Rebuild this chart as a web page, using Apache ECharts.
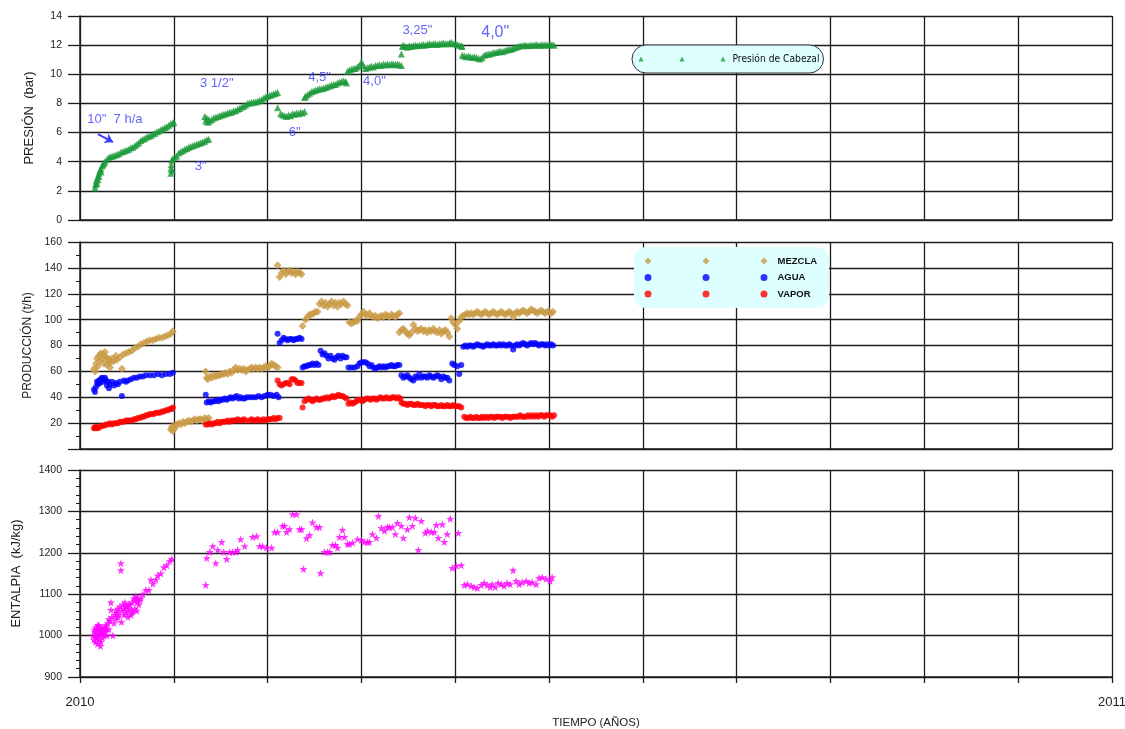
<!DOCTYPE html>
<html><head><meta charset="utf-8">
<script src="https://cdn.jsdelivr.net/npm/echarts@6/dist/echarts.min.js"></script>
<style>html,body{margin:0;padding:0;background:#fff;}#c{width:1125px;height:729px;}</style>
</head><body><div id="c"></div>
<script>
// ---------------- DATA ----------------
const xTickLabels = ['2010', '2011'];

const presion = [
[15,2.2],[15.5,2.4],[16,2.5],[16.5,2.7],[17,2.8],[17,2.5],[18,3.0],[18,2.8],[19,3.2],[19,3.0],[20,3.4],[21,3.5],[21,3.3],[22,3.7],[23,3.8],[24,3.9],[25,4.0],[27,4.15],[29,4.3],[31,4.35],[33,4.4],[35,4.45],[37,4.5],[39,4.55],[41,4.65],[43,4.7],[45,4.75],[47,4.8],[49,4.85],[51,4.95],[53,5.0],[55,5.1],[57,5.2],[59,5.3],[61,5.45],[63,5.55],[65,5.6],[67,5.7],[69,5.75],[71,5.8],[73,5.9],[75,5.95],[77,6.05],[79,6.1],[81,6.2],[83,6.25],[85,6.35],[87,6.4],[89,6.5],[91,6.6],[93,6.65],[94,6.7],
[91,3.2],[91,3.5],[91.5,3.8],[92,4.1],[92.5,3.4],[93,4.2],[95,4.3],[97,4.4],[99,4.6],[101,4.7],[103,4.75],[105,4.85],[107,4.9],[109,5.0],[111,5.05],[113,5.1],[115,5.15],[117,5.2],[119,5.25],[121,5.3],[123,5.35],[125,5.4],[127,5.5],[129,5.55],
[125,7.1],[126,6.8],[127,7.0],[128,6.7],[129,6.9],[130,6.8],[132,6.9],[134,7.0],[136,7.05],[138,7.1],[140,7.15],[142,7.2],[144,7.25],[146,7.3],[148,7.35],[150,7.4],[152,7.4],[154,7.5],[156,7.5],[158,7.6],[160,7.65],[162,7.75],[164,7.8],[166,7.9],[168,8.0],[170,8.05],[172,8.05],[174,8.1],[176,8.1],[178,8.15],[180,8.2],[182,8.25],[184,8.35],[186,8.45],[188,8.5],[190,8.55],[192,8.6],[194,8.65],[196,8.7],[198,8.75],
[198,7.7],[201,7.3],[203,7.2],[205,7.15],[207,7.1],[209,7.2],[211,7.15],[213,7.3],[215,7.25],[217,7.35],[219,7.3],[221,7.4],[223,7.35],[225,7.45],
[225,8.4],[226,8.5],[228,8.6],[230,8.7],[232,8.8],[234,8.85],[236,8.9],[238,8.95],[240,9.0],[242,9.0],[244,9.05],[246,9.1],[248,9.15],[250,9.2],[252,9.25],[254,9.3],[256,9.3],[258,9.4],[260,9.45],[262,9.5],[264,9.55],[266,9.5],[267,9.4],
[268,10.2],[270,10.3],[272,10.35],[274,10.4],[276,10.4],[278,10.5],[280,10.6],[282,10.85],[284,10.6],[286,10.4],[288,10.45],[290,10.5],[292,10.55],[294,10.5],[296,10.6],[298,10.6],[300,10.65],[302,10.6],[304,10.7],[306,10.65],[308,10.7],[310,10.65],[312,10.7],[314,10.7],[316,10.65],[318,10.7],[320,10.65],[322,10.6],
[322,11.4],[323,11.9],[324,12.0],[326,11.9],[328,11.85],[330,11.95],[332,11.9],[334,11.95],[336,12.0],[338,11.95],[340,12.0],[342,12.0],[344,12.05],[346,12.0],[348,12.05],[350,12.1],[352,12.05],[354,12.1],[356,12.1],[358,12.05],[360,12.1],[362,12.1],[364,12.15],[366,12.1],[368,12.1],[370,12.15],[372,12.2],[374,12.1],[376,12.1],[378,12.05],[380,12.0],[382,11.95],[383,11.9],
[383,11.3],[385,11.25],[387,11.2],[389,11.25],[391,11.2],[393,11.15],[395,11.2],[397,11.15],[399,11.1],[401,11.05],[403,11.15],[405,11.3],[407,11.35],[409,11.4],[411,11.4],[413,11.45],[415,11.5],[417,11.5],[419,11.55],[421,11.6],[423,11.55],[425,11.6],[427,11.65],[429,11.7],[431,11.7],[433,11.75],[435,11.8],[437,11.85],[439,11.9],[441,11.95],[443,11.95],[445,12.0],[447,12.0],[449,11.95],[451,12.0],[453,12.0],[455,12.0],[457,12.05],[459,12.0],[461,12.0],[463,12.05],[465,12.0],[467,12.05],[469,12.0],[471,12.05],[473,12.05],[475,12.0]
];

const mezcla = [
[14,62],[15,60],[16,66],[17,70],[18,64],[19,72],[20,68],[21,74],[22,70],[23,73],[24,66],[25,75],[26,71],[27,65],[28,70],[29,68],[30,63],[31,67],[32,70],[34,68],[36,72],[37,69],[40,71],[42,62],[43,73],[46,74],[49,75],[52,76],[55,78],[58,79],[61,81],[64,82],[67,83],[70,84],[73,84],[76,85],[79,86],[82,86],[85,87],[88,88],[91,89],[93,91],
[91,15],[92,17],[93,14],[94,18],[95,16],[97,19],[99,20],[101,19],[103,21],[105,20],[107,21],[109,22],[111,21],[113,22],[115,23],[117,22],[119,23],[121,23],[123,22],[125,24],[127,23],[129,24],
[126,60],[127,55],[128,54],[130,56],[132,55],[134,57],[136,56],[138,57],[140,57],[142,58],[144,58],[146,59],[148,58],[150,60],[152,59],[154,61],[156,63],[158,61],[160,62],[162,61],[164,62],[166,60],[167,61],
[170,62],[172,63],[174,62],[176,63],[178,62],[180,63],[182,62],[184,63],[186,64],[188,63],[190,64],[192,66],[194,65],[196,64],[198,63],
[198,142],[200,133],[202,136],[204,138],[206,135],[208,137],[210,138],[212,136],[214,137],[216,135],[218,137],[220,136],[222,135],
[223,95],[226,100],[228,102],[230,104],[232,104],[234,105],[236,106],[238,106],[240,112],[242,114],[244,111],[246,113],[248,110],[250,112],[252,114],[254,111],[256,113],[258,110],[260,113],[262,112],[264,114],[266,112],[268,111],
[270,98],[272,97],[274,98],[276,99],[278,99],[280,102],[282,104],[284,106],[286,104],[288,103],[290,105],[292,103],[294,102],[296,103],[298,101],[300,102],[302,103],[304,102],[306,104],[308,103],[310,102],[312,104],[314,103],[316,102],[318,104],[320,105],
[320,90],[322,92],[324,93],[326,91],[328,89],[330,88],[332,90],[334,96],[336,93],[338,91],[340,92],[342,93],[344,91],[346,92],[348,90],[350,92],[352,91],[354,93],[356,91],[358,90],[360,92],[362,89],[364,91],[366,92],[368,90],[370,87],
[372,101],[374,98],[376,96],[378,93],[380,99],[382,102],
[384,103],[386,104],[388,105],[390,104],[392,105],[394,104],[396,105],[398,106],[400,105],[402,104],[404,105],[406,106],[408,105],[410,104],[412,105],[414,106],[416,105],[418,104],[420,105],[422,106],[424,105],[426,104],[428,105],[430,106],[432,105],[434,102],[436,105],[438,106],[440,105],[442,106],[444,107],[446,106],[448,105],[450,106],[452,108],[454,107],[456,106],[458,105],[460,106],[462,107],[464,106],[466,105],[468,106],[470,106],[472,105],[474,106]
];

const agua = [
[14,46],[15,44],[16,48],[17,52],[18,50],[19,53],[20,51],[21,54],[22,55],[23,52],[24,54],[25,55],[26,53],[27,49],[28,52],[29,47],[30,50],[32,52],[34,49],[36,51],[38,50],[40,52],[42,41],[44,53],[46,52],[48,53],[51,54],[54,55],[57,55],[60,56],[63,56],[66,57],[70,57],[74,57],[78,58],[82,57],[86,58],[90,58],[93,59],
[126,42],[127,36],[129,37],[131,36],[133,37],[135,37],[137,38],[139,37],[141,38],[143,38],[145,39],[147,38],[149,39],[151,40],[153,39],[155,40],[157,41],[159,39],[161,40],[163,39],[165,39],[167,40],
[170,40],[173,40],[176,40],[179,41],[182,40],[185,41],[188,42],[191,42],[194,41],[197,42],[199,40],
[198,89],[200,82],[202,84],[204,86],[206,85],[208,84],[210,85],[212,85],[214,84],[216,85],[218,85],[220,86],[222,85],
[223,63],[225,64],[227,64],[229,65],[231,65],[233,66],[235,65],[237,66],[239,65],
[241,76],[243,73],[245,74],[247,72],[249,70],[251,72],[253,70],[255,69],[257,71],[259,72],[261,70],[263,72],[265,71],[267,71],
[269,63],[272,63],[275,63],[278,64],[280,66],[282,67],[284,67],[286,67],[288,66],[290,64],[292,65],[294,63],[296,62],[298,63],[300,64],[302,63],[304,64],[306,63],[308,64],[310,64],[312,65],[314,64],[316,64],[318,65],[320,65],
[322,57],[324,55],[326,56],[328,57],[330,55],[332,54],[334,53],[336,56],[338,55],[340,58],[342,55],[344,56],[346,56],[348,55],[350,57],[352,56],[354,55],[356,56],[358,57],[360,56],[362,54],[364,56],[366,55],[368,55],[370,53],
[373,66],[375,65],[378,64],[380,58],[382,65],
[384,79],[386,80],[388,79],[390,80],[392,80],[394,79],[396,80],[398,81],[400,80],[402,80],[404,79],[406,80],[408,81],[410,80],[412,80],[414,81],[416,80],[418,80],[420,81],[422,80],[424,81],[426,80],[428,80],[430,81],[432,80],[434,77],[436,80],[438,81],[440,80],[442,81],[444,82],[446,81],[448,80],[450,81],[452,82],[454,81],[456,82],[458,81],[460,80],[462,81],[464,81],[466,80],[468,81],[470,80],[472,81],[474,80]
];

const vapor = [
[14,16],[15,17],[16,16],[17,17],[18,16],[20,17],[22,18],[24,18],[26,19],[28,19],[30,20],[32,19],[34,20],[36,20],[38,20],[40,21],[42,21],[44,21],[46,22],[48,22],[50,22],[52,22],[54,23],[56,23],[58,24],[60,24],[62,25],[64,25],[66,26],[68,26],[70,27],[72,27],[74,27],[76,28],[78,28],[80,28],[82,29],[84,29],[86,30],[88,30],[90,31],[92,31],[93,32],
[126,19],[128,19],[130,20],[132,19],[134,20],[136,20],[138,21],[140,20],[142,21],[144,21],[146,21],[148,22],[150,21],[152,22],[154,22],[156,22],[158,23],[160,22],[162,22],[164,23],[166,22],
[170,22],[172,23],[174,22],[176,22],[178,23],[180,22],[182,22],[184,23],[186,22],[188,23],[190,23],[192,23],[194,24],[196,23],[198,24],[200,24],
[198,53],[200,50],[202,49],[204,50],[206,51],[208,51],[210,50],[212,54],[214,54],[216,53],[218,51],[220,51],[222,51],
[223,32],[225,37],[227,38],[229,39],[231,38],[233,37],[235,38],[237,39],[239,38],[241,38],[243,39],[245,39],[247,40],[249,39],[251,40],[253,41],[255,40],[257,41],[259,42],[261,41],[263,41],[265,40],[267,39],
[269,35],[271,36],[273,35],[275,36],[277,37],[279,38],[281,38],[283,37],[285,38],[287,39],[289,39],[291,38],[293,39],[295,39],[297,38],[299,39],[301,40],[303,39],[305,39],[307,40],[309,39],[311,39],[313,40],[315,40],[317,39],[319,40],[321,39],
[322,36],[324,35],[326,35],[328,34],[330,35],[332,35],[334,34],[336,34],[338,35],[340,34],[342,34],[344,34],[346,33],[348,34],[350,34],[352,33],[354,34],[356,34],[358,33],[360,33],[362,34],[364,33],[366,33],[368,34],[370,33],[372,33],[374,34],[376,33],[378,33],[380,33],[382,32],
[385,25],[387,24],[389,24],[391,25],[393,24],[395,24],[397,25],[399,24],[401,24],[403,25],[405,24],[407,25],[409,24],[411,25],[413,25],[415,24],[417,25],[419,25],[421,25],[423,24],[425,25],[427,25],[429,25],[431,24],[433,25],[435,25],[437,25],[439,25],[441,26],[443,25],[445,25],[447,25],[449,26],[451,25],[453,26],[455,25],[457,26],[459,25],[461,26],[463,26],[465,25],[467,26],[469,26],[471,26],[473,25],[475,26]
];

const entalpia = [
[13,1000],[14,990],[14.5,1015],[15,1010],[15.5,985],[16,1020],[16,995],[16.5,1005],[17,995],[17.5,980],[18,1015],[18,1025],[18.5,1000],[19,1025],[19.5,990],[20,1005],[20,1015],[20.5,975],[21,1010],[21,985],[22,1020],[22.5,995],[23,1015],[23,1005],[24,1000],[25,1010],[25,1020],[26,1025],[27,1015],[27,1000],[28,1030],[29,1040],[29,1015],[30,1035],[31,1080],[31,1062],[32,1045],[33,1000],[34,1030],[35,1050],[36,1040],[36,1060],[37,1055],[38,1065],[38,1045],[39,1050],[40,1070],[41,1175],[41,1158],[41.5,1033],[42,1060],[43,1075],[44,1065],[44,1050],[45,1080],[46,1055],[46,1070],[47,1070],[48,1060],[48,1045],[49,1075],[50,1065],[50,1075],[51,1050],[52,1080],[52,1055],[53,1060],[54,1090],[55,1085],[55,1065],[56,1095],[57,1080],[57,1060],[58,1090],[59,1075],[60,1085],[61,1090],[63,1100],[66,1110],[69,1110],[71,1135],[73,1125],[76,1135],[78,1145],[81,1150],[84,1165],[87,1170],[90,1180],[92,1185],
[126,1122],[127,1187],[130,1202],[133,1216],[136,1175],[138,1207],[142,1226],[144,1202],[147,1185],[150,1202],[153,1202],[156,1202],[158,1207],[161,1233],[165,1216],[173,1238],[177,1240],[180,1216],[183,1216],[187,1212],[192,1212],[195,1250],
[198,1250],[203,1265],[205,1265],[207,1250],[210,1257],[213,1293],[217,1293],[220,1257],[222,1257],[224,1161],[227,1235],[230,1243],[233,1273],[237,1262],[240,1262],[241,1151],[245,1202],[248,1202],[250,1202],[253,1219],[256,1219],[258,1212],[260,1238],[263,1255],[265,1238],[268,1221],[270,1221],[273,1224],[278,1233],[282,1231],[285,1226],[288,1226],[290,1226],[293,1245],[297,1236],[299,1289],[302,1260],[305,1253],[308,1262],[310,1262],[313,1262],[316,1245],[318,1272],[322,1265],[324,1236],[328,1257],[330,1286],[333,1265],[336,1284],[339,1207],[342,1277],[346,1248],[348,1253],[352,1250],[355,1250],[357,1267],[359,1236],[363,1269],[365,1226],[368,1245],[371,1282],[373,1163],[377,1168],[379,1248],[382,1170],
[385,1122],[388,1124],[392,1120],[395,1117],[398,1115],[402,1122],[405,1127],[408,1122],[411,1117],[413,1124],[416,1117],[419,1127],[422,1124],[425,1120],[428,1127],[431,1124],[434,1158],[437,1132],[440,1124],[443,1129],[447,1132],[450,1127],[453,1129],[457,1124],[460,1139],[463,1141],[467,1137],[471,1132],[473,1141]
];

const anotaciones = [
[35, 6.93, '10"  7 h/a'],
[137, 9.4, '3 1/2"'],
[121, 3.7, '3"'],
[215, 6.04, '6"'],
[240, 9.8, '4,5"'],
[295, 9.5, '4,0"'],
[338, 13.04, '3,25"'],
[416, 12.83, '4,0"']
];
const flecha = [[18, 5.9], [33, 5.35]];

// ---------------- CHART ----------------
const FONT = "'Liberation Sans', Arial, sans-serif";
const LINE = '#1c1c1c';
const C_GREEN = '#1b9a3a', C_TAN = '#c99a45', C_BLUE = '#0000ff', C_RED = '#ff0000', C_MAG = '#ff00ff', C_NOTE = '#3a3aff';
const STAR = 'path://M0,-10L2.35,-3.24L9.51,-3.09L3.8,1.24L5.88,8.09L0,4L-5.88,8.09L-3.8,1.24L-9.51,-3.09L-2.35,-3.24Z';
const TRI3 = 'path://M0,5L2.5,0L5,5Z M41,5L43.5,0L46,5Z M82,5L84.5,0L87,5Z';
const DIA3 = 'path://M3.5,0L7,3.5L3.5,7L0,3.5Z M61.5,0L65,3.5L61.5,7L58,3.5Z M119.5,0L123,3.5L119.5,7L116,3.5Z';
const CIR3 = 'path://M0,3.5A3.5,3.5,0,1,0,7,3.5A3.5,3.5,0,1,0,0,3.5Z M58,3.5A3.5,3.5,0,1,0,65,3.5A3.5,3.5,0,1,0,58,3.5Z M116,3.5A3.5,3.5,0,1,0,123,3.5A3.5,3.5,0,1,0,116,3.5Z';

const XMAX = 1034, XINT = 94;
function xAxisCfg(gi, showLabels) {
  return {
    type: 'value', gridIndex: gi, min: 0, max: XMAX, interval: XINT,
    axisLine: { show: true, onZero: false, lineStyle: { color: LINE, width: 1.5 } },
    axisTick: { show: showLabels, length: 6, lineStyle: { color: LINE, width: 1.3 } },
    splitLine: { show: true, lineStyle: { color: LINE, width: 1.3 } },
    axisLabel: {
      show: showLabels, margin: 19, fontSize: 13, color: '#222', fontFamily: FONT,
      showMinLabel: true, showMaxLabel: true,
      formatter: v => (v === 0 ? xTickLabels[0] : (Math.abs(v - XMAX) < 1e-6 ? xTickLabels[1] : ''))
    },
    name: showLabels ? 'TIEMPO (AÑOS)' : '',
    nameLocation: 'middle', nameGap: 40,
    nameTextStyle: { fontSize: 11.5, color: '#222', fontFamily: FONT }
  };
}
function yAxisCfg(gi, min, max, interval, name, nameGap, nameSize, minorSplit, hideZero) {
  return {
    type: 'value', gridIndex: gi, min, max, interval,
    name, nameLocation: 'middle', nameGap,
    nameTextStyle: { fontSize: nameSize, color: '#222', fontFamily: FONT },
    axisLine: { show: true, lineStyle: { color: LINE, width: 1.5 } },
    axisTick: { show: true, length: 12, lineStyle: { color: LINE, width: 1.3 } },
    minorTick: { show: !!minorSplit, splitNumber: minorSplit || 5, length: 4, lineStyle: { color: LINE, width: 1 } },
    splitLine: { show: true, lineStyle: { color: LINE, width: 1.3 } },
    axisLabel: {
      margin: 18, fontSize: 10.5, color: '#222', fontFamily: FONT,
      formatter: v => (hideZero && v === 0 ? '' : String(v))
    }
  };
}

const chart = echarts.init(document.getElementById('c'), null, { renderer: 'canvas' });
chart.setOption({
  animation: false,
  backgroundColor: '#ffffff',
  grid: [
    { left: 80, top: 16, width: 1032, height: 204, outerBoundsMode: 'none' },
    { left: 80, top: 242, width: 1032, height: 207, outerBoundsMode: 'none' },
    { left: 80, top: 470, width: 1032, height: 207, outerBoundsMode: 'none' }
  ],
  xAxis: [xAxisCfg(0, false), xAxisCfg(1, false), xAxisCfg(2, true)],
  yAxis: [
    yAxisCfg(0, 0, 14, 2, 'PRESIÓN  (bar)', 44, 13, 0, false),
    yAxisCfg(1, 0, 160, 20, 'PRODUCCIÓN (t/h)', 45, 12, 2, true),
    yAxisCfg(2, 900, 1400, 100, 'ENTALPIA  (kJ/kg)', 57, 13, 5, false)
  ],
  legend: [
    {
      left: 632, top: 45, orient: 'horizontal',
      data: [{ name: 'Presión de Cabezal', icon: TRI3 }],
      itemWidth: 87, itemHeight: 5,
      padding: [7, 4, 7, 6.5],
      backgroundColor: '#ddffff', borderColor: '#333', borderWidth: 1, borderRadius: 14,
      selectedMode: false,
      textStyle: { fontSize: 10.2, lineHeight: 14, color: '#111', fontFamily: "'Liberation Sans Narrow', 'DejaVu Sans Condensed', Arial, sans-serif", padding: [0, 0, 0, 2] }
    },
    {
      left: 634, top: 247, orient: 'vertical',
      data: [{ name: 'MEZCLA', icon: DIA3 }, { name: 'AGUA', icon: CIR3 }, { name: 'VAPOR', icon: CIR3 }],
      itemWidth: 123, itemHeight: 7, itemGap: 4.5,
      padding: [8, 12, 8, 10.5],
      backgroundColor: '#ddffff', borderWidth: 0, borderRadius: 12,
      selectedMode: false,
      textStyle: { fontSize: 9.5, lineHeight: 12, color: '#111', fontFamily: FONT, fontWeight: 'bold', padding: [0, 0, 0, 5] }
    }
  ],
  series: [
    { name: 'Presión de Cabezal', type: 'scatter', xAxisIndex: 0, yAxisIndex: 0, data: presion,
      symbol: 'triangle', symbolSize: 7, itemStyle: { color: C_GREEN } },
    { name: 'MEZCLA', type: 'scatter', xAxisIndex: 1, yAxisIndex: 1, data: mezcla,
      symbol: 'diamond', symbolSize: 8, itemStyle: { color: C_TAN } },
    { name: 'AGUA', type: 'scatter', xAxisIndex: 1, yAxisIndex: 1, data: agua,
      symbol: 'circle', symbolSize: 6, itemStyle: { color: C_BLUE } },
    { name: 'VAPOR', type: 'scatter', xAxisIndex: 1, yAxisIndex: 1, data: vapor,
      symbol: 'circle', symbolSize: 6, itemStyle: { color: C_RED } },
    { name: 'ENTALPIA', type: 'scatter', xAxisIndex: 2, yAxisIndex: 2, data: entalpia,
      symbol: STAR, symbolSize: 8, itemStyle: { color: C_MAG } },
    { name: 'notas', type: 'scatter', xAxisIndex: 0, yAxisIndex: 0, symbolSize: 0, silent: true, z: 5,
      data: anotaciones.map((a, i) => ({
        value: [a[0], a[1]], name: a[2],
        label: { fontSize: i === anotaciones.length - 1 ? 16 : 13 }
      })),
      label: { show: true, position: 'inside', formatter: '{b}', color: C_NOTE, fontFamily: FONT, fontSize: 13 },
      markLine: {
        silent: true, symbol: ['none', 'arrow'], symbolSize: 8,
        label: { show: false },
        lineStyle: { color: C_NOTE, width: 2, type: 'solid' },
        data: [[{ coord: flecha[0] }, { coord: flecha[1] }]]
      }
    }
  ]
});
</script>
</body></html>
